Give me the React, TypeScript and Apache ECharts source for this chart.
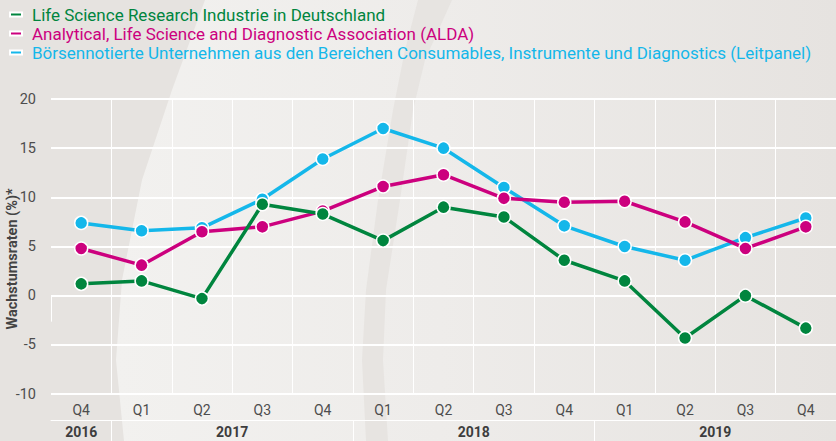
import React, { useEffect, useRef } from "react";
import * as echarts from "echarts";

const periods = [
  "2016 Q4", "2017 Q1", "2017 Q2", "2017 Q3", "2017 Q4",
  "2018 Q1", "2018 Q2", "2018 Q3", "2018 Q4",
  "2019 Q1", "2019 Q2", "2019 Q3", "2019 Q4",
];
const years = ["2016", "2017", "2018", "2019"];
const quartersPerYear = [1, 4, 4, 4];

const seriesNames = [
  "Life Science Research Industrie in Deutschland",
  "Analytical, Life Science and Diagnostic Association (ALDA)",
  "Börsennotierte Unternehmen aus den Bereichen Consumables, Instrumente und Diagnostics (Leitpanel)",
];
const lifeScienceDE = [1.2, 1.5, -0.3, 9.3, 8.3, 5.6, 9.0, 8.0, 3.6, 1.5, -4.3, 0.0, -3.3];
const alda = [4.8, 3.1, 6.5, 7.0, 8.6, 11.1, 12.3, 9.9, 9.5, 9.6, 7.5, 4.8, 7.0];
const leitpanel = [7.4, 6.6, 6.9, 9.8, 13.9, 17.0, 15.0, 11.0, 7.1, 5.0, 3.6, 5.9, 7.9];

const yTicks = { min: -10, max: 20, interval: 5 };
const yAxisTitle = "Wachstumsraten (%)*";

const colors = ["#00853e", "#cc007e", "#14b7ea"];

export default function App() {
  const ref = useRef<HTMLDivElement>(null);

  useEffect(() => {
    if (!ref.current) return;
    const chart = echarts.init(ref.current, null, { renderer: "svg" });

    const centers: number[] = [];
    const bounds: number[] = [];
    let start = -0.5;
    quartersPerYear.forEach((n, i) => {
      centers.push(start + n / 2);
      if (i > 0) bounds.push(start);
      start += n;
    });

    const labelColor = "#4d4d4d";
    const allData = [lifeScienceDE, alda, leitpanel];
    const order = [2, 1, 0];

    chart.setOption({
      animation: false,
      backgroundColor: "#e6e3e0",
      graphic: [
        {
          type: "polygon",
          z: -10,
          silent: true,
          shape: {
            points: [
              [205, 0], [172, 90], [142, 180], [122, 280], [116, 360], [124, 441],
              [836, 441], [836, 0],
            ],
          },
          style: {
            fill: new echarts.graphic.LinearGradient(0, 0, 1, 0, [
              { offset: 0, color: "#f2f1ef" },
              { offset: 0.45, color: "#eeecea" },
              { offset: 1, color: "#e6e3e0" },
            ]),
          },
        },
        {
          type: "polygon",
          z: -9,
          silent: true,
          shape: {
            points: [
              [418, 0], [452, 0], [425, 60], [413, 110], [400, 200], [386, 290],
              [383, 360], [388, 441], [366, 441], [362, 360], [366, 290],
              [378, 200], [393, 110], [405, 50],
            ],
          },
          style: { fill: "#e7e4e1" },
        },
        {
          type: "text",
          x: 12,
          y: 259,
          rotation: Math.PI / 2,
          style: {
            text: yAxisTitle,
            fill: "#444",
            font: "bold 14.5px Roboto",
            align: "center",
            verticalAlign: "middle",
          },
        },
      ],
      legend: {
        orient: "vertical",
        left: 4,
        top: 1,
        itemWidth: 12,
        itemHeight: 4,
        itemGap: 2,
        icon: "rect",
        data: seriesNames.map((n, i) => ({
          name: n,
          textStyle: { color: colors[i] },
        })),
        textStyle: { fontSize: 17, fontFamily: "Roboto", padding: [0, 0, 0, 5] },
        selectedMode: false,
      },
      grid: { left: 51, right: -1, top: 99, bottom: 47, containLabel: false },
      xAxis: [
        {
          type: "category",
          data: periods,
          boundaryGap: true,
          axisLine: { show: false },
          axisTick: { show: true, length: 26, lineStyle: { color: "#ffffff", width: 1 } },
          axisLabel: {
            formatter: (v: string) => v.split(" ")[1],
            color: labelColor,
            fontSize: 14,
            fontFamily: "Roboto",
            margin: 9,
          },
          splitLine: { show: true, showMinLine: false, lineStyle: { color: "#ffffff", width: 1 } },
        },
        {
          type: "value",
          position: "bottom",
          offset: 26,
          min: -0.5,
          max: periods.length - 0.5,
          axisLine: { show: true, lineStyle: { color: "#ffffff", width: 1 } },
          axisTick: {
            show: true,
            customValues: bounds,
            length: 22,
            lineStyle: { color: "#ffffff", width: 1 },
          },
          axisLabel: {
            customValues: centers,
            formatter: (v: number) => {
              const idx = centers.findIndex((c) => Math.abs(c - v) < 1e-6);
              return idx >= 0 ? years[idx] : "";
            },
            color: "#3d3d3d",
            fontSize: 14,
            fontWeight: "bold",
            fontFamily: "Roboto",
            margin: 5,
          },
          splitLine: { show: false },
        },
      ],
      yAxis: {
        type: "value",
        min: yTicks.min,
        max: yTicks.max,
        interval: yTicks.interval,
        axisLine: { show: false },
        axisTick: { show: false },
        axisLabel: { color: labelColor, fontSize: 14.5, fontFamily: "Roboto", margin: 15 },
        splitLine: { lineStyle: { color: "#ffffff", width: 2 } },
      },
      series: order.map((i) => ({
        name: seriesNames[i],
        type: "line",
        xAxisIndex: 0,
        data: allData[i],
        symbol: "circle",
        symbolSize: 13,
        lineStyle: { color: colors[i], width: 3.5 },
        itemStyle: { color: colors[i], borderColor: "#ffffff", borderWidth: 1.5 },
        z: 3,
      })),
    });

    return () => chart.dispose();
  }, []);

  return (
    <div
      ref={ref}
      style={{ position: "fixed", left: 0, top: 0, width: 836, height: 441 }}
    />
  );
}
